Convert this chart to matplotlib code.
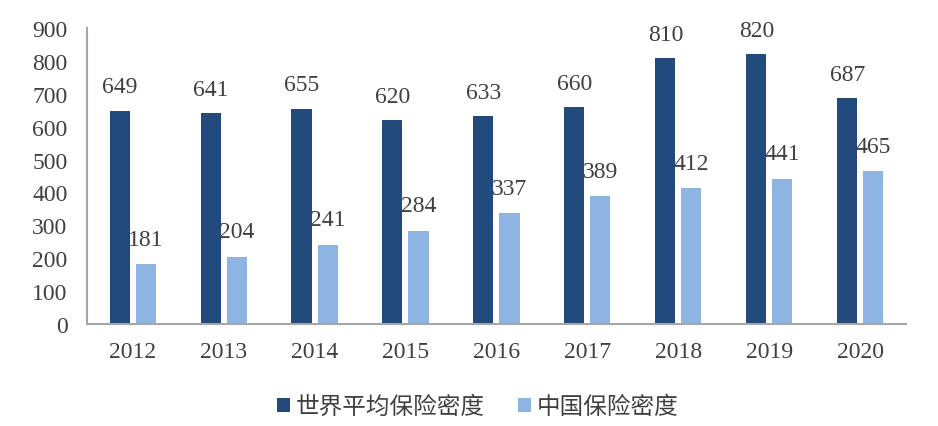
import numpy as np
from matplotlib import pyplot as plt

plt.rcParams['font.family'] = ['Liberation Serif', 'Noto Sans CJK SC']

years = ['2012', '2013', '2014', '2015', '2016', '2017', '2018', '2019', '2020']
world = [649, 641, 655, 620, 633, 660, 810, 820, 687]
china = [181, 204, 241, 284, 337, 389, 412, 441, 465]
names = ['世界平均保险密度', '中国保险密度']

DARK = '#234a7c'
LIGHT = '#8db4e2'
GRAY = '#a6a6a6'
TEXT = '#404040'

fig = plt.figure(figsize=(9.38, 4.27), dpi=100)
ax = fig.add_axes([0.0928, 0.239, 0.873, 0.693])

x = np.arange(len(years))
w = 0.22
off = 0.143
b1 = ax.bar(x - off, world, w, color=DARK, label=names[0])
b2 = ax.bar(x + off, china, w, color=LIGHT, label=names[1])

# value labels above each bar
for xi, v in zip(x, world):
    ax.annotate(str(v), (xi - off, v), xytext=(0, 17), textcoords='offset points',
                ha='center', va='center', fontsize=17, color=TEXT)
for xi, v in zip(x, china):
    ax.annotate(str(v), (xi + off, v), xytext=(0, 18), textcoords='offset points',
                ha='center', va='center', fontsize=17, color=TEXT)

ax.set_xlim(-0.5, len(years) - 0.5)
ax.set_ylim(0, 900)
ax.set_yticks(range(0, 901, 100))
ax.set_xticks(x)
ax.set_xticklabels(years)
ax.tick_params(axis='both', length=0, labelsize=17, colors=TEXT)
ax.tick_params(axis='x', pad=12)
ax.tick_params(axis='y', pad=14)

for s in ['top', 'right']:
    ax.spines[s].set_visible(False)
for s in ['left', 'bottom']:
    ax.spines[s].set_color(GRAY)
    ax.spines[s].set_linewidth(1.5)

fig.legend(handles=[b1, b2], loc='center', bbox_to_anchor=(0.509, 0.045), ncol=2,
           frameon=False, fontsize=17, handlelength=0.55, handleheight=0.55,
           handletextpad=0.25, columnspacing=1.4, labelcolor=TEXT)

fig.savefig('out.png', dpi=100)
